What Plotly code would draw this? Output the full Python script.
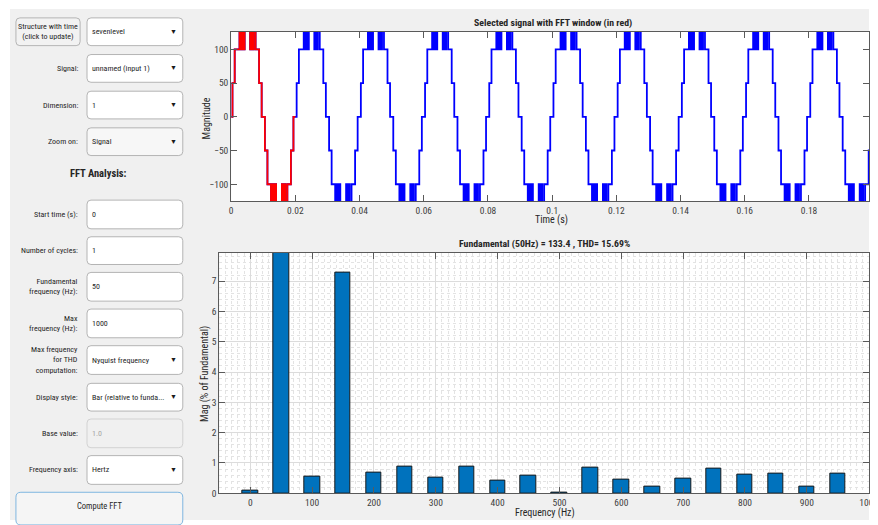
import plotly.graph_objects as go

# browser window is 878x525; the page body has an 8px margin
WIN_W, WIN_H = 878, 525
OX, OY = 8, 8
W, H = WIN_W - OX, WIN_H - OY

# ---------------- data ----------------
# one period (ms) of the seven-level staircase
period_ms = 20.0
cycles = [0, 1, 2, 3, 4, 5, 6, 7, 8, 9]
edge_t_ms = [0.0, 0.4, 1.1, 2.6, 3.1, 3.4, 3.9, 4.2, 5.9, 6.2, 6.7, 7.0, 7.6, 8.7, 9.5,
             10.5, 11.3, 12.4, 12.9, 13.2, 13.7, 14.0, 15.8, 16.1, 16.6, 16.9, 17.5, 18.6, 19.4]
edge_level = [0, 50, 100, 150, 100, 150, 100, 150, 100, 150, 100, 150, 100, 50, 0,
              -50, -100, -150, -100, -150, -100, -150, -100, -150, -100, -150, -100, -50, 0]
fft_window_cycles = [0]

harm_freq = [0, 50, 100, 150, 200, 250, 300, 350, 400, 450,
             500, 550, 600, 650, 700, 750, 800, 850, 900, 950]
harm_mag = [0.09, 100, 0.56, 7.27, 0.68, 0.87, 0.52, 0.89, 0.43, 0.58,
            0.03, 0.83, 0.44, 0.23, 0.48, 0.81, 0.63, 0.65, 0.21, 0.65]

top_title = "Selected signal with FFT window (in red)"
bottom_title = "Fundamental (50Hz) = 133.4 , THD= 15.69%"

panel_rows = [
    # label, value, kind
    ("Signal:", "unnamed (input 1)", "drop"),
    ("Dimension:", "1", "drop"),
    ("Zoom on:", "Signal", "dropgray"),
    ("Start time (s):", "0", "text"),
    ("Number of cycles:", "1", "text"),
    ("Fundamental<br>frequency (Hz):", "50", "text"),
    ("Max<br>frequency (Hz):", "1000", "text"),
    ("Max frequency<br>for THD<br>computation:", "Nyquist frequency", "drop"),
    ("Display style:", "Bar (relative to funda...", "drop"),
    ("Base value:", "1.0", "disabled"),
    ("Frequency axis:", "Hertz", "drop"),
]
row_y = [(55, 83), (92, 120), (129, 157), (202, 231), (239, 267), (275, 304),
         (312, 341), (349, 378), (387, 415), (423, 452), (460, 489)]

# ---------------- build signal ----------------
def build(cyc_list):
    xs, ys = [], []
    for c in cyc_list:
        for t, v in zip(edge_t_ms, edge_level):
            xs.append((c * period_ms + t) / 1000.0)
            ys.append(v)
    xs.append((cyc_list[-1] + 1) * period_ms / 1000.0)
    ys.append(edge_level[-1])
    return xs, ys

bx, by = build(cycles)
rx, ry = build(fft_window_cycles)

FONT = "Liberation Sans Narrow, Roboto Condensed, Liberation Sans, Arial, sans-serif"
TXT = "#262626"

def px(x):
    return (x - OX) / W

def py(y):
    return 1 - (y - OY) / H

fig = go.Figure()
fig.add_trace(go.Scatter(x=bx, y=by, mode="lines", line=dict(color="#0000FF", width=1.8, shape="hv"),
                         xaxis="x", yaxis="y", hoverinfo="skip", showlegend=False))
fig.add_trace(go.Scatter(x=rx, y=ry, mode="lines", line=dict(color="#FF0000", width=1.8, shape="hv"),
                         xaxis="x", yaxis="y", hoverinfo="skip", showlegend=False))
fig.add_trace(go.Bar(x=harm_freq, y=harm_mag, width=25, marker=dict(color="#0072BD", line=dict(color="#1a1a1a", width=1)),
                     xaxis="x2", yaxis="y2", hoverinfo="skip", showlegend=False))

axcol = "#5a5a5a"
tickfont = dict(family=FONT, size=9.5, color="#404040")

shapes = []
annotations = []

# grey panel
shapes.append(dict(type="rect", xref="paper", yref="paper", x0=0, x1=1, y0=0, y1=py(9),
                   fillcolor="#f0f0f0", line=dict(width=0), layer="below"))
# plot area white backgrounds
shapes.append(dict(type="rect", xref="paper", yref="paper", x0=px(232), x1=1, y0=py(203), y1=py(32),
                   fillcolor="white", line=dict(width=0), layer="below"))
shapes.append(dict(type="rect", xref="paper", yref="paper", x0=px(220), x1=1, y0=py(498), y1=py(255),
                   fillcolor="white", line=dict(width=0), layer="below"))

def rrect(x0, y0, x1, y1, r, fill, line, lw=1):
    rx_, ry_ = r / W, r / H
    X0, X1, Y0, Y1 = px(x0), px(x1), py(y1), py(y0)
    path = (f"M {X0+rx_},{Y1} L {X1-rx_},{Y1} Q {X1},{Y1} {X1},{Y1-ry_} "
            f"L {X1},{Y0+ry_} Q {X1},{Y0} {X1-rx_},{Y0} L {X0+rx_},{Y0} "
            f"Q {X0},{Y0} {X0},{Y0+ry_} L {X0},{Y1-ry_} Q {X0},{Y1} {X0+rx_},{Y1} Z")
    shapes.append(dict(type="path", xref="paper", yref="paper", path=path,
                       fillcolor=fill, line=dict(color=line, width=lw)))

def text(x, y, s, size=8, anchor="left", color=TXT, bold=False, align=None):
    annotations.append(dict(x=px(x), y=py(y), xref="paper", yref="paper", text=f"<b>{s}</b>" if bold else s,
                            showarrow=False, xanchor=anchor, yanchor="middle",
                            align=align or anchor if anchor != "center" else "center",
                            font=dict(family=FONT, size=size, color=color)))

# left panel: top button and dropdown
rrect(14, 18, 79, 46, 4, "#f2f2f2", "#b4b4b4")
text(46.5, 32, "Structure with time<br>(click to update)", size=8, anchor="center")
rrect(86, 18, 183, 46, 4, "white", "#b4b4b4")
text(89.5, 32, "sevenlevel")
text(174, 32, "▼", size=7, anchor="center", color="#1a1a1a")

for (lab, val, kind), (y0, y1) in zip(panel_rows, row_y):
    yc = (y0 + y1) / 2
    fill = {"drop": "white", "dropgray": "#f7f7f7", "text": "white", "disabled": "#f0f0f0"}[kind]
    border = "#d2d2d2" if kind == "disabled" else "#b4b4b4"
    rrect(86, y0, 183, y1, 4, fill, border)
    text(79, yc, lab, anchor="right", align="right")
    text(89.5, yc, val, color="#a6a6a6" if kind == "disabled" else TXT)
    if kind.startswith("drop"):
        text(174, yc, "▼", size=7, anchor="center", color="#1a1a1a")

text(98, 175, "FFT Analysis:", size=10.5, anchor="center", bold=True)
rrect(14, 497, 183, 530, 5, "#f5f5f5", "#7fb6e0")
text(98.5, 511, "Compute FFT", size=8.5, anchor="center")

# plot titles / axis labels
text(558, 23, top_title, size=9.8, anchor="center", bold=True)
text(556, 222, "Time (s)", size=10, anchor="center")
annotations.append(dict(x=px(207), y=py(119), xref="paper", yref="paper", text="Magnitude", textangle=-90,
                        showarrow=False, xanchor="center", yanchor="middle",
                        font=dict(family=FONT, size=10, color=TXT)))
text(549.5, 246, bottom_title, size=9.8, anchor="center", bold=True)
text(549.5, 518, "Frequency (Hz)", size=10, anchor="center")
annotations.append(dict(x=px(206), y=py(377), xref="paper", yref="paper", text="Mag (% of Fundamental)", textangle=-90,
                        showarrow=False, xanchor="center", yanchor="middle",
                        font=dict(family=FONT, size=10, color=TXT)))

common = dict(showline=True, linecolor=axcol, linewidth=1, mirror="ticks", ticks="inside",
              ticklen=6, tickcolor=axcol, tickfont=tickfont, zeroline=False, ticklabeloverflow="allow")

fig.update_layout(
    width=W, height=H, margin=dict(l=0, r=0, t=0, b=0),
    paper_bgcolor="white", plot_bgcolor="rgba(0,0,0,0)",
    shapes=shapes, annotations=annotations, bargap=0,
    xaxis=dict(domain=[px(232), 1], anchor="y", range=[0, 0.1987], tickvals=[0, 0.02, 0.04, 0.06, 0.08, 0.1, 0.12, 0.14, 0.16, 0.18],
               ticktext=["0", "0.02", "0.04", "0.06", "0.08", "0.1", "0.12", "0.14", "0.16", "0.18"],
               showgrid=False, **common),
    yaxis=dict(domain=[py(203), py(32)], anchor="x", range=[-125, 126], tickvals=[-100, -50, 0, 50, 100],
               showgrid=False, **common),
    xaxis2=dict(domain=[px(220), 1], anchor="y2", range=[-50, 1000.5], dtick=100, tick0=0,
                showgrid=True, gridcolor="#dcdcdc", gridwidth=1,
                minor=dict(dtick=10, showgrid=True, gridcolor="#e3e3e3", griddash="dot", gridwidth=1, ticks=""),
                **common),
    yaxis2=dict(domain=[py(498), py(255)], anchor="x2", range=[0, 7.94], dtick=1, tick0=0,
                showgrid=True, gridcolor="#dcdcdc", gridwidth=1,
                minor=dict(dtick=0.2, showgrid=True, gridcolor="#e3e3e3", griddash="dot", gridwidth=1, ticks=""),
                **common),
)

fig.write_html("out.html")
